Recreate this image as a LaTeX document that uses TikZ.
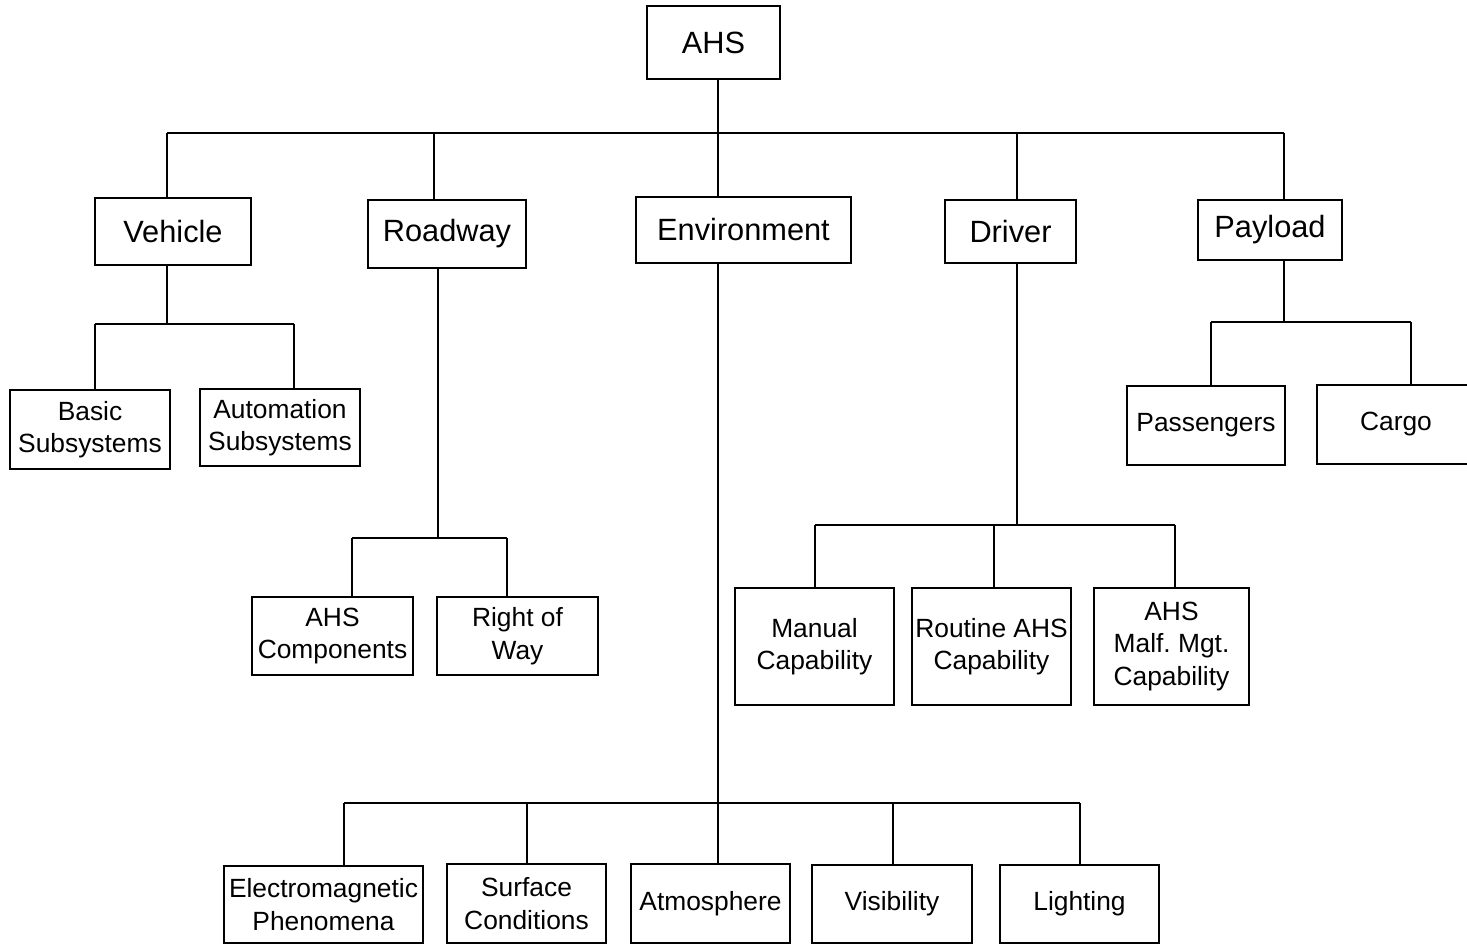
\documentclass[tikz,border=0pt]{standalone}
\usepackage{fontspec}
\setmainfont{Liberation Sans}
\usepackage{tikz}

\begin{document}
\begin{tikzpicture}[x=0.02cm,y=-0.02cm]
% Styles
\tikzstyle{trait}=[line width=1.5pt]
\tikzstyle{boite}=[draw,line width=1.5pt,rectangle,align=center,inner sep=0pt]
\tikzstyle{grand}=[boite,font=\fontsize{17.5}{20}\selectfont]
\tikzstyle{petit}=[boite,font=\fontsize{15}{18.5}\selectfont]
% Dimensions
\def\Px{0.02cm}
\useasboundingbox (0,0) rectangle (1467,945);
% Noeuds : racine et niveau 1
\node[grand,minimum width=133*\Px,minimum height=73*\Px] (R) at (713.5,42.5) {AHS};
\node[grand,minimum width=156*\Px,minimum height=67*\Px] (Ra) at (173,231.5) {Vehicle};
\node[grand,minimum width=158*\Px,minimum height=68*\Px] (Rb) at (447,234) {Roadway};
\node[grand,minimum width=215*\Px,minimum height=66*\Px] (Rc) at (743.5,230) {Environment};
\node[grand,minimum width=131*\Px,minimum height=63*\Px] (Rd) at (1010.5,231.5) {Driver};
\node[grand,minimum width=144*\Px,minimum height=60*\Px] (Re) at (1270,230) {Payload};
% Noeuds : niveau 2
\node[petit,minimum width=160*\Px,minimum height=79*\Px] (Raa) at (90,429.5) {Basic\\Subsystems};
\node[petit,minimum width=160*\Px,minimum height=77*\Px] (Rab) at (280,427.5) {Automation\\Subsystems};
\node[petit,minimum width=161*\Px,minimum height=78*\Px] (Rba) at (332.5,636) {AHS\\Components};
\node[petit,minimum width=161*\Px,minimum height=78*\Px] (Rbb) at (517.5,636) {Right of\\Way};
\node[petit,minimum width=199*\Px,minimum height=77*\Px] (Rca) at (323.5,904.5) {Electromagnetic\\Phenomena};
\node[petit,minimum width=159*\Px,minimum height=79*\Px] (Rcb) at (526.5,903.5) {Surface\\Conditions};
\node[petit,minimum width=159*\Px,minimum height=79*\Px] (Rcc) at (710.5,903.5) {Atmosphere};
\node[petit,minimum width=160*\Px,minimum height=78*\Px] (Rcd) at (892,904) {Visibility};
\node[petit,minimum width=159*\Px,minimum height=78*\Px] (Rce) at (1079.5,904) {Lighting};
\node[petit,minimum width=159*\Px,minimum height=117*\Px] (Rda) at (814.5,646.5) {Manual\\Capability};
\node[petit,minimum width=159*\Px,minimum height=117*\Px] (Rdb) at (991.5,646.5) {Routine AHS\\Capability};
\node[petit,minimum width=155*\Px,minimum height=117*\Px] (Rdc) at (1171.5,646.5) {AHS\\Malf.\ Mgt.\\Capability};
\node[petit,minimum width=158*\Px,minimum height=79*\Px] (Rea) at (1206,425.5) {Passengers};
\node[petit,minimum width=158*\Px,minimum height=79*\Px] (Reb) at (1396,424.5) {Cargo};
% Points de branchement
\coordinate (jR) at (718,133);
\coordinate (dRa) at (167,133);
\coordinate (dRb) at (434,133);
\coordinate (dRd) at (1017,133);
\coordinate (dRe) at (1284,133);
\coordinate (jRa) at (167,324);
\coordinate (dRaa) at (95,324);
\coordinate (dRab) at (294,324);
\coordinate (jRb) at (438,538);
\coordinate (dRba) at (352,538);
\coordinate (dRbb) at (507,538);
\coordinate (jRc) at (718,803);
\coordinate (dRca) at (344,803);
\coordinate (dRcb) at (527,803);
\coordinate (dRcd) at (893,803);
\coordinate (dRce) at (1080,803);
\coordinate (jRd) at (1017,525);
\coordinate (dRda) at (815,525);
\coordinate (dRdb) at (994,525);
\coordinate (dRdc) at (1175,525);
\coordinate (jRe) at (1284,322);
\coordinate (dRea) at (1211,322);
\coordinate (dReb) at (1411,322);
% Arcs : tiges des parents
\draw[trait] (jR |- R.south)--(jR);
\draw[trait] (jRa |- Ra.south)--(jRa);
\draw[trait] (jRb |- Rb.south)--(jRb);
\draw[trait] (jRc |- Rc.south)--(jRc);
\draw[trait] (jRd |- Rd.south)--(jRd);
\draw[trait] (jRe |- Re.south)--(jRe);
% Arcs : barres
\draw[trait] (dRa)--(dRe);
\draw[trait] (dRaa)--(dRab);
\draw[trait] (dRba)--(dRbb);
\draw[trait] (dRca)--(dRce);
\draw[trait] (dRda)--(dRdc);
\draw[trait] (dRea)--(dReb);
% Arcs : descentes vers les enfants
\foreach \d/\n in {dRa/Ra,dRb/Rb,jR/Rc,dRd/Rd,dRe/Re,dRaa/Raa,dRab/Rab,dRba/Rba,dRbb/Rbb,dRca/Rca,dRcb/Rcb,jRc/Rcc,dRcd/Rcd,dRce/Rce,dRda/Rda,dRdb/Rdb,dRdc/Rdc,dRea/Rea,dReb/Reb}
  \draw[trait] (\d)--(\d |- \n.north);
\end{tikzpicture}
\end{document}
